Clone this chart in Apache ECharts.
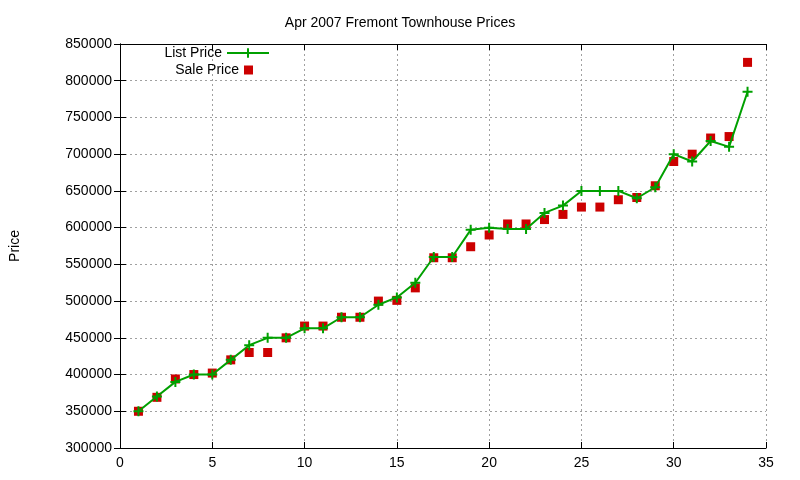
<!DOCTYPE html><html><head><meta charset="utf-8"><script src="https://cdn.jsdelivr.net/npm/echarts@6/dist/echarts.min.js"></script></head><body style="margin:0"><div id="c" style="width:800px;height:480px"></div><script>
const xs=[1,2,3,4,5,6,7,8,9,10,11,12,13,14,15,16,17,18,19,20,21,22,23,24,25,26,27,28,29,30,31,32,33,34];
const listPrice=[350000,370000,390000,400000,400000,420000,440000,450000,450000,463000,463000,478000,478000,495000,505000,525000,560000,560000,597000,600000,598000,598000,620000,630000,650000,650000,650000,640000,655000,700000,690000,718000,710000,785000];
const salePrice=[350000,369000,394000,400000,402000,420000,430000,430000,450000,466000,466000,478000,478000,500000,501000,518000,559000,559000,574000,590000,605000,605000,611000,618000,628000,628000,638000,641000,657000,690000,700000,722000,724000,825000];
const ch=echarts.init(document.getElementById('c'));
const F='Liberation Sans';
const tick={inside:true,length:6,lineStyle:{color:'#000'}};
const split={show:true,lineStyle:{color:'#a0a0a0',type:[2,3]}};
const lt={fontSize:14,color:'#000',fontFamily:F};
ch.setOption({animation:false,textStyle:{fontFamily:F},
title:{text:'Apr 2007 Fremont Townhouse Prices',left:'center',top:11,textStyle:{fontSize:14,fontWeight:'normal',color:'#000',fontFamily:F}},
legend:[{orient:'vertical',right:530,top:46,align:'right',itemWidth:42,itemHeight:12,padding:0,textStyle:lt,data:['List Price']},
{orient:'vertical',right:530,top:63,align:'right',itemWidth:9,itemHeight:9,padding:[0,17,0,0],itemGap:0,textStyle:lt,data:['Sale Price']}],
grid:{left:120,right:34,top:44,bottom:32},
xAxis:[{type:'value',min:0,max:35,interval:5,axisLine:{lineStyle:{color:'#000'}},axisTick:tick,splitLine:split,axisLabel:{fontSize:14,color:'#000'}},
{type:'value',position:'top',min:0,max:35,interval:5,axisLine:{lineStyle:{color:'#000'}},axisTick:tick,axisLabel:{show:false},splitLine:{show:false}}],
yAxis:[{type:'value',min:300000,max:850000,interval:50000,name:'Price',nameLocation:'middle',nameGap:98,nameTextStyle:{fontSize:14,color:'#000'},axisLine:{show:true,lineStyle:{color:'#000'}},axisTick:tick,splitLine:split,axisLabel:{fontSize:14,color:'#000',formatter:v=>String(v)}},
{type:'value',position:'right',min:300000,max:850000,interval:50000,axisLine:{show:true,lineStyle:{color:'#000'}},axisTick:tick,axisLabel:{show:false},splitLine:{show:false}}],
series:[{name:'List Price',type:'line',data:xs.map((x,i)=>[x,listPrice[i]]),symbol:'path://M-1,0H1M0,-1V1',symbolSize:10,showAllSymbol:true,color:'#00a000',lineStyle:{width:2,color:'#00a000'},itemStyle:{color:'#00a000',borderColor:'#00a000',borderWidth:2}},
{name:'Sale Price',type:'scatter',data:xs.map((x,i)=>[x,salePrice[i]]),symbol:'rect',symbolSize:9,itemStyle:{color:'#cc0000',opacity:1}}]});
</script></body></html>
